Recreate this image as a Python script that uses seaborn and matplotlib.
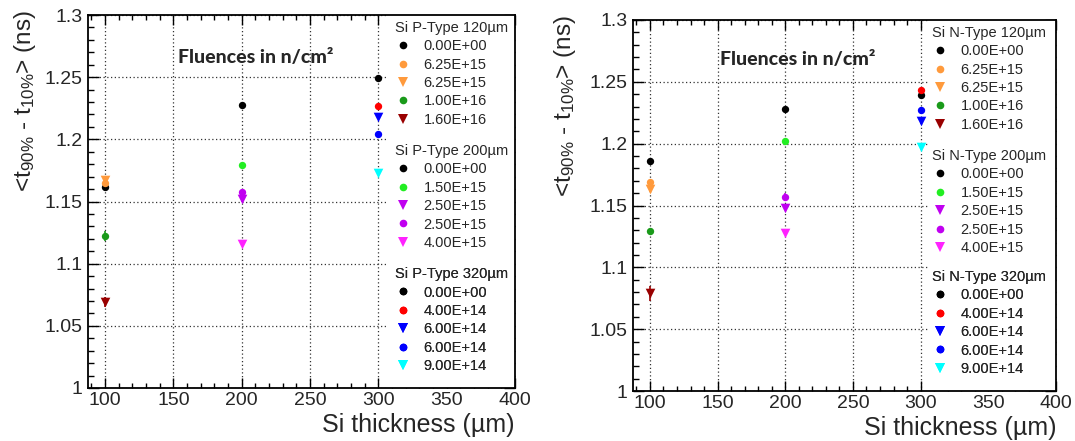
import matplotlib
matplotlib.use("Agg")
import matplotlib.pyplot as plt
from matplotlib.lines import Line2D
from matplotlib.patches import Rectangle
from matplotlib.ticker import MultipleLocator
import seaborn as sns

# ---------------- data ----------------
group_x = [100, 200, 300]          # plotted thickness positions (um)
group_names_p = ["Si P-Type 120\u00b5m", "Si P-Type 200\u00b5m", "Si P-Type 320\u00b5m"]
group_names_n = ["Si N-Type 120\u00b5m", "Si N-Type 200\u00b5m", "Si N-Type 320\u00b5m"]

fluence_120 = ["0.00E+00", "6.25E+15", "6.25E+15", "1.00E+16", "1.60E+16"]
fluence_200 = ["0.00E+00", "1.50E+15", "2.50E+15", "2.50E+15", "4.00E+15"]
fluence_320 = ["0.00E+00", "4.00E+14", "6.00E+14", "6.00E+14", "9.00E+14"]

# P-type rise times (ns)
p120_y = [1.162, 1.165, 1.167, 1.122, 1.069]
p120_err = [0.002, 0.002, 0.002, 0.004, 0.004]
p200_y = [1.228, 1.179, 1.152, 1.158, 1.116]
p200_err = [0.001, 0.002, 0.002, 0.002, 0.002]
p320_y = [1.249, 1.227, 1.218, 1.204, 1.173]
p320_err = [0.001, 0.001, 0.002, 0.002, 0.002]

# N-type rise times (ns)
n120_y = [1.186, 1.169, 1.163, 1.129, 1.079]
n120_err = [0.002, 0.002, 0.002, 0.002, 0.006]
n200_y = [1.228, 1.202, 1.148, 1.157, 1.128]
n200_err = [0.001, 0.002, 0.002, 0.003, 0.002]
n320_y = [1.239, 1.243, 1.218, 1.227, 1.197]
n320_err = [0.002, 0.002, 0.002, 0.003, 0.002]

# ---------------- styles ----------------
colors_120 = ["#000000", "#ff9a3c", "#ff9a3c", "#1a9a1a", "#990000"]
markers_120 = ["o", "o", "v", "o", "v"]
colors_200 = ["#000000", "#22ee22", "#c000f0", "#c000f0", "#ff22ff"]
markers_200 = ["o", "o", "v", "o", "v"]
colors_320 = ["#000000", "#ff0000", "#0000ff", "#0000ff", "#00ffff"]
markers_320 = ["o", "o", "v", "o", "v"]

sns.set_style("white")
plt.rcParams["font.family"] = ["Liberation Sans", "DejaVu Sans"]
plt.rcParams["mathtext.fontset"] = "custom"
plt.rcParams["mathtext.rm"] = "Liberation Sans"
plt.rcParams["mathtext.default"] = "regular"

fig = plt.figure(figsize=(10.75, 4.41), dpi=100)
W, H = 1075, 441
ax_l = fig.add_axes([88 / W, 1 - 388 / H, 427 / W, 373 / H])
ax_r = fig.add_axes([633 / W, 1 - 391 / H, 423 / W, 371 / H])

SIZES = {"o": 28, "v": 48}


def draw_panel(ax, ys, errs, names, label_x, flu_xy, leg_x, leg_ys):
    ax.add_patch(Rectangle((0.70, 0.0), 0.30, 1.0, transform=ax.transAxes,
                           facecolor="white", edgecolor="none", zorder=1.5))
    groups = [(ys[0], errs[0], fluence_120, colors_120, markers_120),
              (ys[1], errs[1], fluence_200, colors_200, markers_200),
              (ys[2], errs[2], fluence_320, colors_320, markers_320)]
    for gx, (yv, ev, flu, cols, mks) in zip(group_x, groups):
        for y, e, c, m in zip(yv, ev, cols, mks):
            ax.errorbar([gx], [y], yerr=[e], fmt="none", ecolor=c, elinewidth=1.2,
                        capsize=0, zorder=3)
            sns.scatterplot(x=[gx], y=[y], ax=ax, color=c, marker=m,
                            s=SIZES[m], linewidth=0, zorder=4, legend=False)

    ax.set_xlim(87.5, 400)
    ax.set_ylim(1.0, 1.3)
    ax.xaxis.set_major_locator(MultipleLocator(50))
    ax.xaxis.set_minor_locator(MultipleLocator(10))
    ax.yaxis.set_major_locator(MultipleLocator(0.05))
    ax.yaxis.set_minor_locator(MultipleLocator(0.01))
    ax.yaxis.set_major_formatter(matplotlib.ticker.FuncFormatter(lambda v, p: f"{v:g}"))
    ax.tick_params(which="both", direction="in", top=True, right=True,
                   bottom=True, left=True, color="black")
    ax.tick_params(which="major", axis="y", length=8, width=1)
    ax.tick_params(which="minor", axis="y", length=4, width=1)
    ax.tick_params(which="major", axis="x", length=7, width=1)
    ax.tick_params(which="minor", axis="x", length=3.5, width=1)
    ax.tick_params(axis="both", labelsize=14)
    ax.tick_params(axis="x", pad=3)
    ax.tick_params(axis="y", pad=4)
    ax.grid(True, which="major", color="#333333", linestyle=(0, (1, 2)), linewidth=0.9)
    ax.set_axisbelow(True)
    for sp in ax.spines.values():
        sp.set_linewidth(1.3)
        sp.set_color("black")
        sp.set_zorder(5)

    ax.set_xlabel("Si thickness (\u00b5m)", fontsize=18, loc="right")
    ax.xaxis.set_label_coords(1.0, -0.068)
    ax.set_ylabel(r"<t$_{90\%}$ - t$_{10\%}$> (ns)", fontsize=17.5, loc="top")
    ax.yaxis.set_label_coords(label_x, 1.013)

    ax.text(flu_xy[0], flu_xy[1], "Fluences in n/cm\u00b2", transform=ax.transAxes,
            fontsize=14, fontweight="black", family=["Lato", "DejaVu Sans"],
            va="baseline", ha="left", zorder=6)

    flus = [fluence_120, fluence_200, fluence_320]
    colsl = [colors_120, colors_200, colors_320]
    mksl = [markers_120, markers_200, markers_320]
    for name, flu, cols, mks, ly in zip(names, flus, colsl, mksl, leg_ys):
        handles = [Line2D([], [], linestyle="none", marker=m, color=c,
                          markersize=5.5 if m == "o" else 7, markeredgewidth=0)
                   for m, c in zip(mks, cols)]
        leg = ax.legend(handles, flu, title=name, loc="upper left",
                        bbox_to_anchor=(leg_x, ly), frameon=False, fontsize=10.5,
                        title_fontsize=10.5, alignment="left", borderpad=0,
                        borderaxespad=0, handlelength=1.1, handletextpad=0.85,
                        labelspacing=0.3)
        leg.set_zorder(6)
        ax.add_artist(leg)


draw_panel(ax_l, [p120_y, p200_y, p320_y], [p120_err, p200_err, p320_err],
           group_names_p, -0.118, (0.211, 0.871), 0.719, [0.984, 0.654, 0.324])
draw_panel(ax_r, [n120_y, n200_y, n320_y], [n120_err, n200_err, n320_err],
           group_names_n, -0.13, (0.206, 0.879), 0.707, [0.984, 0.652, 0.326])

fig.savefig("out.png", dpi=100)
